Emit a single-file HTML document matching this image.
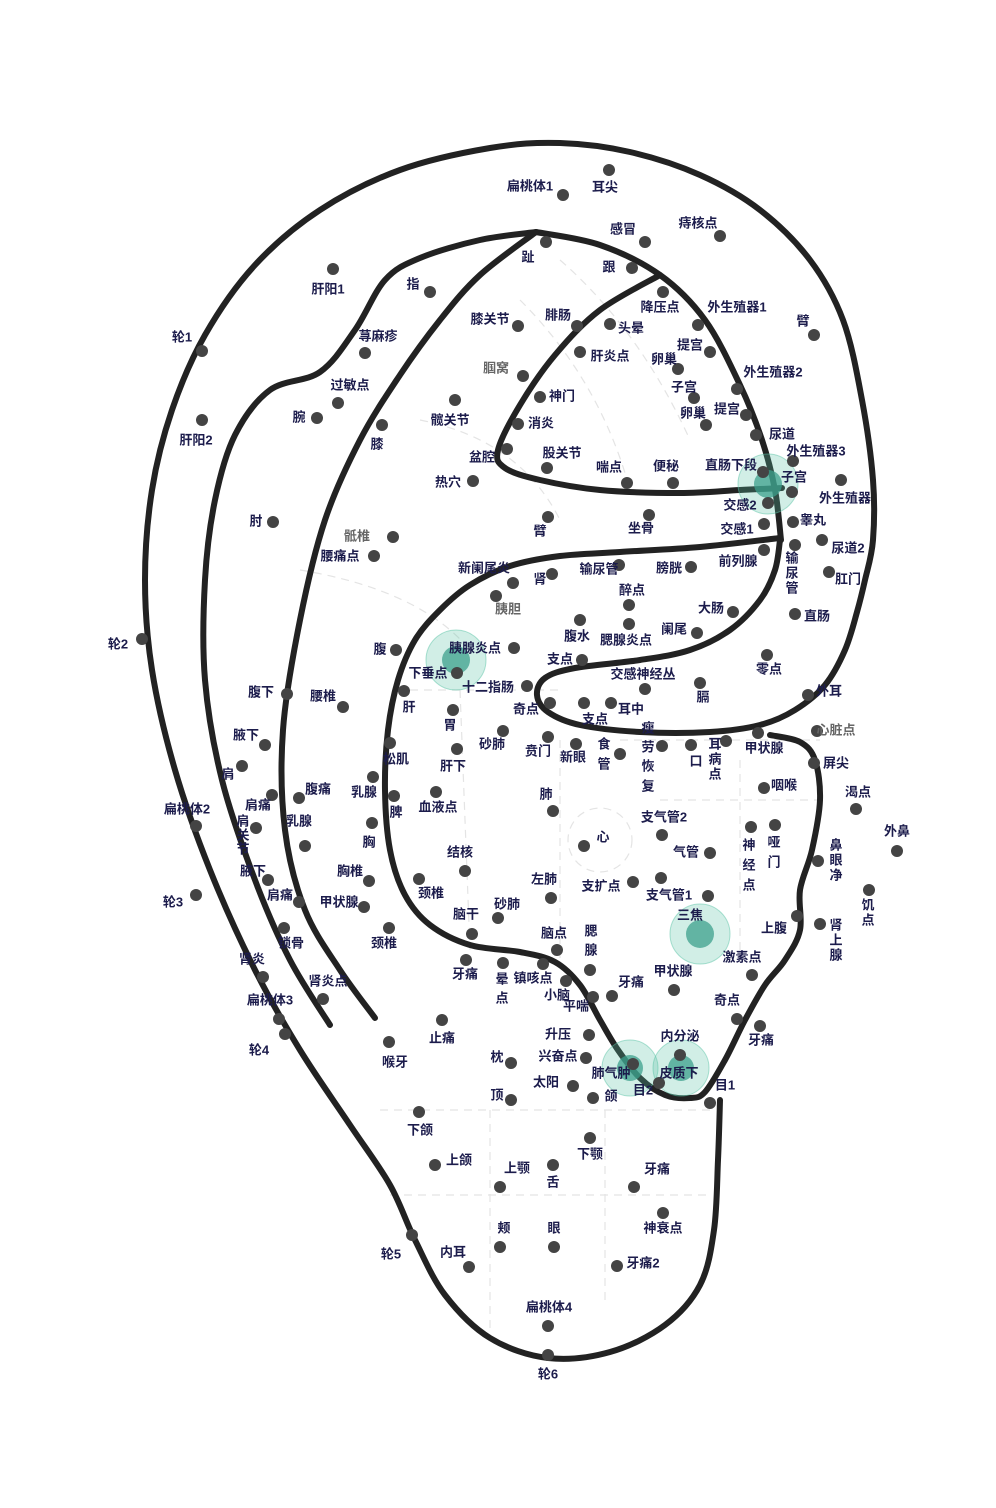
<!DOCTYPE html>
<html><head><meta charset="utf-8"><style>
html,body{margin:0;padding:0;background:#fff;}
svg{display:block;}
text{font-family:"Liberation Sans","Noto Sans CJK SC",sans-serif;font-size:13px;font-weight:bold;fill:#1c1c4c;text-anchor:middle;dominant-baseline:middle;}
.g{fill:#666;}
.d{fill:#444;}
.l{fill:none;stroke:#222;stroke-width:6;stroke-linejoin:round;stroke-linecap:round;}
.h1{fill:rgba(90,195,165,0.28);stroke:rgba(90,195,165,0.5);stroke-width:1;}
.h2{fill:rgba(60,160,140,0.75);}
.f{fill:none;stroke:#e4e4e4;stroke-width:1.2;stroke-dasharray:8 6;}
</style></head><body>
<svg id="s" width="996" height="1508" viewBox="0 0 996 1508" xmlns="http://www.w3.org/2000/svg">
<g class="f">
<path d="M560,260 Q640,330 690,440"/><path d="M520,300 Q600,380 630,490"/>
<path d="M420,420 Q520,440 560,520"/><path d="M300,570 Q420,590 470,650"/>
<path d="M410,690 L560,690"/><path d="M460,690 L470,950"/>
<path d="M560,740 L560,960"/><path d="M620,740 L820,740"/>
<circle cx="600" cy="840" r="32"/>
<path d="M380,1110 L710,1110"/><path d="M390,1195 L710,1195"/>
<path d="M490,1110 L490,1330"/><path d="M605,1110 L605,1300"/>
<path d="M660,800 L820,800"/><path d="M740,760 L740,960"/>
</g>
<polyline class="l" points="720,1100 718,1160 714,1230 700,1285 665,1325 610,1352 548,1358 490,1338 445,1295 415,1240 390,1185 350,1125 300,1050 255,970 210,870 175,770 152,670 145,580 152,490 172,410 205,335 255,265 320,210 400,170 490,148 560,143 630,152 700,175 760,210 810,260 843,320 862,400 873,480 873,540 865,580 857,612 845,650 825,685 795,710 760,725 710,732 640,732 580,725 548,712 537,695 545,678 575,668 640,660 690,650 730,630 760,600 775,570 780,540"/>
<polyline class="l" points="536,232 600,245 660,275 705,320 740,385 762,440 775,490 781,540"/>
<polyline class="l" points="660,275 600,310 555,355 520,405 498,450 505,468 540,480 600,490 680,493 740,490 782,488"/>
<polyline class="l" points="536,232 480,275 440,320 400,375 360,440 325,520 300,620 283,730 285,830 305,910 340,970 375,1018"/>
<polyline class="l" points="330,1025 290,960 255,880 222,780 205,680 205,580 215,500 235,435 270,390 320,372 355,330 385,280 420,258 480,240 536,232"/>
<polyline class="l" points="780,538 700,547 620,552 560,556 510,566 470,585 440,610 415,640 398,680 388,730 385,790 390,850 405,895 430,925 470,945 520,952 555,962 580,985 600,1020 618,1050 640,1078 665,1095 690,1098 705,1092 725,1060 745,1020 765,985 785,960 800,930 800,890 812,850 820,800 815,760 800,742 770,735"/>
<circle class="h1" cx="768" cy="484" r="30"/><circle class="h2" cx="768" cy="484" r="14"/>
<circle class="h1" cx="456" cy="660" r="30"/><circle class="h2" cx="456" cy="660" r="14"/>
<circle class="h1" cx="700" cy="934" r="30"/><circle class="h2" cx="700" cy="934" r="14"/>
<circle class="h1" cx="630" cy="1068" r="28"/><circle class="h2" cx="630" cy="1068" r="13"/>
<circle class="h1" cx="681" cy="1068" r="28"/><circle class="h2" cx="681" cy="1068" r="13"/>
<g class="d">
<circle cx="563" cy="195" r="6"/><circle cx="609" cy="170" r="6"/><circle cx="645" cy="242" r="6"/><circle cx="720" cy="236" r="6"/>
<circle cx="546" cy="242" r="6"/><circle cx="632" cy="268" r="6"/><circle cx="333" cy="269" r="6"/><circle cx="430" cy="292" r="6"/>
<circle cx="518" cy="326" r="6"/><circle cx="577" cy="326" r="6"/><circle cx="663" cy="292" r="6"/><circle cx="698" cy="325" r="6"/>
<circle cx="814" cy="335" r="6"/><circle cx="610" cy="324" r="6"/><circle cx="202" cy="351" r="6"/><circle cx="365" cy="353" r="6"/>
<circle cx="580" cy="352" r="6"/><circle cx="710" cy="352" r="6"/><circle cx="678" cy="369" r="6"/><circle cx="737" cy="389" r="6"/>
<circle cx="523" cy="376" r="6"/><circle cx="338" cy="403" r="6"/><circle cx="540" cy="397" r="6"/><circle cx="694" cy="398" r="6"/>
<circle cx="706" cy="425" r="6"/><circle cx="746" cy="415" r="6"/><circle cx="317" cy="418" r="6"/><circle cx="455" cy="400" r="6"/>
<circle cx="518" cy="424" r="6"/><circle cx="382" cy="425" r="6"/><circle cx="202" cy="420" r="6"/><circle cx="756" cy="435" r="6"/>
<circle cx="793" cy="461" r="6"/><circle cx="507" cy="449" r="6"/><circle cx="547" cy="468" r="6"/><circle cx="627" cy="483" r="6"/>
<circle cx="673" cy="483" r="6"/><circle cx="763" cy="472" r="6"/><circle cx="473" cy="481" r="6"/><circle cx="841" cy="480" r="6"/>
<circle cx="768" cy="503" r="6"/><circle cx="792" cy="492" r="6"/><circle cx="793" cy="522" r="6"/><circle cx="764" cy="524" r="6"/>
<circle cx="273" cy="522" r="6"/><circle cx="393" cy="537" r="6"/><circle cx="548" cy="517" r="6"/><circle cx="649" cy="515" r="6"/>
<circle cx="374" cy="556" r="6"/><circle cx="822" cy="540" r="6"/><circle cx="795" cy="545" r="6"/><circle cx="764" cy="550" r="6"/>
<circle cx="513" cy="583" r="6"/><circle cx="552" cy="574" r="6"/><circle cx="619" cy="565" r="6"/><circle cx="691" cy="567" r="6"/>
<circle cx="829" cy="572" r="6"/><circle cx="629" cy="605" r="6"/><circle cx="496" cy="596" r="6"/><circle cx="733" cy="612" r="6"/>
<circle cx="795" cy="614" r="6"/><circle cx="142" cy="639" r="6"/><circle cx="580" cy="620" r="6"/><circle cx="629" cy="624" r="6"/>
<circle cx="697" cy="633" r="6"/><circle cx="396" cy="650" r="6"/><circle cx="514" cy="648" r="6"/><circle cx="582" cy="660" r="6"/>
<circle cx="767" cy="655" r="6"/><circle cx="457" cy="673" r="6"/><circle cx="645" cy="689" r="6"/><circle cx="527" cy="686" r="6"/>
<circle cx="287" cy="694" r="6"/><circle cx="343" cy="707" r="6"/><circle cx="808" cy="695" r="6"/><circle cx="404" cy="691" r="6"/>
<circle cx="700" cy="683" r="6"/><circle cx="550" cy="703" r="6"/><circle cx="611" cy="703" r="6"/><circle cx="584" cy="703" r="6"/>
<circle cx="453" cy="710" r="6"/><circle cx="817" cy="731" r="6"/><circle cx="662" cy="746" r="6"/><circle cx="265" cy="745" r="6"/>
<circle cx="758" cy="733" r="6"/><circle cx="726" cy="741" r="6"/><circle cx="503" cy="731" r="6"/><circle cx="548" cy="737" r="6"/>
<circle cx="576" cy="744" r="6"/><circle cx="620" cy="754" r="6"/><circle cx="691" cy="745" r="6"/><circle cx="390" cy="743" r="6"/>
<circle cx="457" cy="749" r="6"/><circle cx="814" cy="763" r="6"/><circle cx="242" cy="766" r="6"/><circle cx="764" cy="788" r="6"/>
<circle cx="856" cy="809" r="6"/><circle cx="299" cy="798" r="6"/><circle cx="373" cy="777" r="6"/><circle cx="553" cy="811" r="6"/>
<circle cx="394" cy="796" r="6"/><circle cx="436" cy="792" r="6"/><circle cx="272" cy="795" r="6"/><circle cx="196" cy="826" r="6"/>
<circle cx="256" cy="828" r="6"/><circle cx="305" cy="846" r="6"/><circle cx="662" cy="835" r="6"/><circle cx="897" cy="851" r="6"/>
<circle cx="584" cy="846" r="6"/><circle cx="751" cy="827" r="6"/><circle cx="775" cy="825" r="6"/><circle cx="818" cy="861" r="6"/>
<circle cx="372" cy="823" r="6"/><circle cx="710" cy="853" r="6"/><circle cx="465" cy="871" r="6"/><circle cx="268" cy="880" r="6"/>
<circle cx="369" cy="881" r="6"/><circle cx="869" cy="890" r="6"/><circle cx="551" cy="898" r="6"/><circle cx="419" cy="879" r="6"/>
<circle cx="633" cy="882" r="6"/><circle cx="661" cy="878" r="6"/><circle cx="708" cy="896" r="6"/><circle cx="196" cy="895" r="6"/>
<circle cx="299" cy="902" r="6"/><circle cx="364" cy="907" r="6"/><circle cx="498" cy="918" r="6"/><circle cx="472" cy="934" r="6"/>
<circle cx="820" cy="924" r="6"/><circle cx="797" cy="916" r="6"/><circle cx="557" cy="950" r="6"/><circle cx="590" cy="970" r="6"/>
<circle cx="284" cy="928" r="6"/><circle cx="389" cy="928" r="6"/><circle cx="263" cy="977" r="6"/><circle cx="466" cy="960" r="6"/>
<circle cx="503" cy="963" r="6"/><circle cx="543" cy="964" r="6"/><circle cx="752" cy="975" r="6"/><circle cx="674" cy="990" r="6"/>
<circle cx="612" cy="996" r="6"/><circle cx="566" cy="981" r="6"/><circle cx="593" cy="997" r="6"/><circle cx="323" cy="999" r="6"/>
<circle cx="279" cy="1019" r="6"/><circle cx="737" cy="1019" r="6"/><circle cx="442" cy="1020" r="6"/><circle cx="589" cy="1035" r="6"/>
<circle cx="680" cy="1055" r="6"/><circle cx="760" cy="1026" r="6"/><circle cx="285" cy="1034" r="6"/><circle cx="389" cy="1042" r="6"/>
<circle cx="511" cy="1063" r="6"/><circle cx="586" cy="1058" r="6"/><circle cx="633" cy="1064" r="6"/><circle cx="573" cy="1086" r="6"/>
<circle cx="659" cy="1083" r="6"/><circle cx="710" cy="1103" r="6"/><circle cx="511" cy="1100" r="6"/><circle cx="593" cy="1098" r="6"/>
<circle cx="419" cy="1112" r="6"/><circle cx="590" cy="1138" r="6"/><circle cx="435" cy="1165" r="6"/><circle cx="553" cy="1165" r="6"/>
<circle cx="634" cy="1187" r="6"/><circle cx="500" cy="1187" r="6"/><circle cx="500" cy="1247" r="6"/><circle cx="554" cy="1247" r="6"/>
<circle cx="663" cy="1213" r="6"/><circle cx="412" cy="1235" r="6"/><circle cx="469" cy="1267" r="6"/><circle cx="617" cy="1266" r="6"/>
<circle cx="548" cy="1326" r="6"/><circle cx="548" cy="1355" r="6"/>
</g>
<g>
<text x="530" y="187">扁桃体1</text><text x="605" y="188">耳尖</text><text x="623" y="230">感冒</text><text x="698" y="224">痔核点</text>
<text x="528" y="258">趾</text><text x="609" y="268">跟</text><text x="328" y="290">肝阳1</text><text x="413" y="285">指</text>
<text x="490" y="320">膝关节</text><text x="558" y="316">腓肠</text><text x="660" y="308">降压点</text><text x="737" y="308">外生殖器1</text>
<text x="803" y="322">臂</text><text x="631" y="329">头晕</text><text x="182" y="338">轮1</text><text x="378" y="337">荨麻疹</text>
<text x="610" y="357">肝炎点</text><text x="690" y="346">提宫</text><text x="664" y="360">卵巢</text><text x="773" y="373">外生殖器2</text>
<text x="496" y="369" class="g">腘窝</text><text x="350" y="386">过敏点</text><text x="562" y="397">神门</text><text x="684" y="388">子宫</text>
<text x="693" y="414">卵巢</text><text x="727" y="410">提宫</text><text x="299" y="418">腕</text><text x="450" y="421">髋关节</text>
<text x="541" y="424">消炎</text><text x="377" y="445">膝</text><text x="196" y="441">肝阳2</text><text x="782" y="435">尿道</text>
<text x="816" y="452">外生殖器3</text><text x="482" y="458">盆腔</text><text x="562" y="454">股关节</text><text x="609" y="468">喘点</text>
<text x="666" y="467">便秘</text><text x="731" y="466">直肠下段</text><text x="794" y="478">子宫</text><text x="448" y="483">热穴</text>
<text x="845" y="499">外生殖器</text><text x="740" y="506">交感2</text><text x="813" y="521">睾丸</text><text x="737" y="530">交感1</text>
<text x="256" y="522">肘</text><text x="357" y="537" class="g">骶椎</text><text x="540" y="532">臂</text><text x="641" y="529">坐骨</text>
<text x="340" y="557">腰痛点</text><text x="848" y="549">尿道2</text><text x="738" y="562">前列腺</text>
<text x="792" y="559">输</text><text x="792" y="574">尿</text><text x="792" y="589">管</text>
<text x="484" y="569">新阑尾炎</text><text x="540" y="580">肾</text><text x="599" y="570">输尿管</text><text x="669" y="569">膀胱</text>
<text x="848" y="580">肛门</text><text x="632" y="591">醉点</text><text x="508" y="610" class="g">胰胆</text><text x="711" y="609">大肠</text>
<text x="817" y="617">直肠</text><text x="118" y="645">轮2</text><text x="577" y="637">腹水</text><text x="626" y="641">腮腺炎点</text>
<text x="674" y="630">阑尾</text><text x="380" y="650">腹</text><text x="475" y="649">胰腺炎点</text><text x="560" y="660">支点</text>
<text x="769" y="670">零点</text><text x="428" y="674">下垂点</text><text x="643" y="675">交感神经丛</text><text x="488" y="688">十二指肠</text>
<text x="261" y="693">腹下</text><text x="323" y="697">腰椎</text><text x="829" y="692">外耳</text><text x="409" y="708">肝</text>
<text x="703" y="698">膈</text><text x="526" y="710">奇点</text><text x="631" y="710">耳中</text><text x="595" y="720">支点</text>
<text x="450" y="726">胃</text><text x="836" y="731" class="g">心脏点</text>
<text x="648" y="729">瘦</text><text x="648" y="748">劳</text><text x="648" y="767">恢</text><text x="648" y="787">复</text>
<text x="246" y="736">腋下</text><text x="764" y="749">甲状腺</text>
<text x="715" y="745">耳</text><text x="715" y="760">病</text><text x="715" y="775">点</text>
<text x="492" y="745">砂肺</text><text x="538" y="752">贲门</text><text x="573" y="758">新眼</text>
<text x="604" y="745">食</text><text x="604" y="765">管</text><text x="696" y="762">口</text>
<text x="396" y="760">松肌</text><text x="453" y="767">肝下</text><text x="836" y="764">屏尖</text><text x="228" y="775">肩</text>
<text x="784" y="786">咽喉</text><text x="858" y="793">渴点</text><text x="318" y="790">腹痛</text><text x="364" y="793">乳腺</text>
<text x="546" y="795">肺</text><text x="396" y="813">脾</text><text x="438" y="808">血液点</text><text x="258" y="806">肩痛</text>
<text x="187" y="810">扁桃体2</text>
<text x="243" y="822">肩</text><text x="243" y="836">关</text><text x="243" y="850">节</text>
<text x="299" y="822">乳腺</text><text x="664" y="818">支气管2</text><text x="897" y="832">外鼻</text><text x="603" y="838">心</text>
<text x="749" y="846">神</text><text x="749" y="866">经</text><text x="749" y="886">点</text>
<text x="774" y="843">哑</text><text x="774" y="863">门</text>
<text x="836" y="846">鼻</text><text x="836" y="861">眼</text><text x="836" y="876">净</text>
<text x="369" y="843">胸</text><text x="686" y="853">气管</text><text x="460" y="853">结核</text><text x="253" y="872">腋下</text>
<text x="350" y="872">胸椎</text>
<text x="868" y="906">饥</text><text x="868" y="921">点</text>
<text x="544" y="880">左肺</text><text x="431" y="894">颈椎</text><text x="601" y="887">支扩点</text><text x="669" y="896">支气管1</text>
<text x="173" y="903">轮3</text><text x="280" y="896">肩痛</text><text x="339" y="903">甲状腺</text><text x="507" y="905">砂肺</text>
<text x="690" y="916">三焦</text><text x="466" y="915">脑干</text>
<text x="836" y="926">肾</text><text x="836" y="941">上</text><text x="836" y="956">腺</text>
<text x="774" y="929">上腹</text><text x="554" y="934">脑点</text>
<text x="591" y="932">腮</text><text x="591" y="951">腺</text>
<text x="291" y="944">锁骨</text><text x="384" y="944">颈椎</text><text x="252" y="960">肾炎</text><text x="465" y="975">牙痛</text>
<text x="502" y="980">晕</text><text x="502" y="999">点</text>
<text x="533" y="979">镇咳点</text><text x="742" y="958">激素点</text><text x="673" y="972">甲状腺</text><text x="631" y="983">牙痛</text>
<text x="557" y="996">小脑</text><text x="576" y="1007">平喘</text><text x="328" y="982">肾炎点</text><text x="270" y="1001">扁桃体3</text>
<text x="727" y="1001">奇点</text><text x="442" y="1039">止痛</text><text x="558" y="1035">升压</text><text x="680" y="1037">内分泌</text>
<text x="761" y="1041">牙痛</text><text x="259" y="1051">轮4</text><text x="395" y="1063">喉牙</text><text x="497" y="1058">枕</text>
<text x="558" y="1057">兴奋点</text><text x="611" y="1074">肺气肿</text><text x="679" y="1074">皮质下</text><text x="546" y="1083">太阳</text>
<text x="643" y="1091">目2</text><text x="725" y="1086">目1</text><text x="497" y="1096">顶</text><text x="611" y="1097">颌</text>
<text x="420" y="1131">下颌</text><text x="590" y="1155">下颚</text><text x="459" y="1161">上颌</text><text x="517" y="1169">上颚</text>
<text x="657" y="1170">牙痛</text><text x="553" y="1183">舌</text><text x="504" y="1229">颊</text><text x="554" y="1229">眼</text>
<text x="663" y="1229">神衰点</text><text x="391" y="1255">轮5</text><text x="453" y="1253">内耳</text><text x="643" y="1264">牙痛2</text>
<text x="549" y="1308">扁桃体4</text><text x="548" y="1375">轮6</text>
</g>
</svg>
<script>
(function(){
var ns="http://www.w3.org/2000/svg";
var pls=document.querySelectorAll("polyline.l");
for(var k=0;k<pls.length;k++){
 var pl=pls[k];
 var nums=pl.getAttribute("points").trim().split(/[\s,]+/).map(Number);
 var p=[];for(var i=0;i<nums.length;i+=2)p.push([nums[i],nums[i+1]]);
 var d="M"+p[0][0]+","+p[0][1];
 for(var i=0;i<p.length-1;i++){
  var p0=p[i>0?i-1:0],p1=p[i],p2=p[i+1],p3=p[i+2<p.length?i+2:p.length-1];
  var c1x=p1[0]+(p2[0]-p0[0])/6,c1y=p1[1]+(p2[1]-p0[1])/6;
  var c2x=p2[0]-(p3[0]-p1[0])/6,c2y=p2[1]-(p3[1]-p1[1])/6;
  d+=" C"+c1x.toFixed(1)+","+c1y.toFixed(1)+" "+c2x.toFixed(1)+","+c2y.toFixed(1)+" "+p2[0]+","+p2[1];
 }
 var path=document.createElementNS(ns,"path");
 path.setAttribute("d",d);path.setAttribute("class","l");
 pl.parentNode.replaceChild(path,pl);
}
})();
</script>
</body></html>
